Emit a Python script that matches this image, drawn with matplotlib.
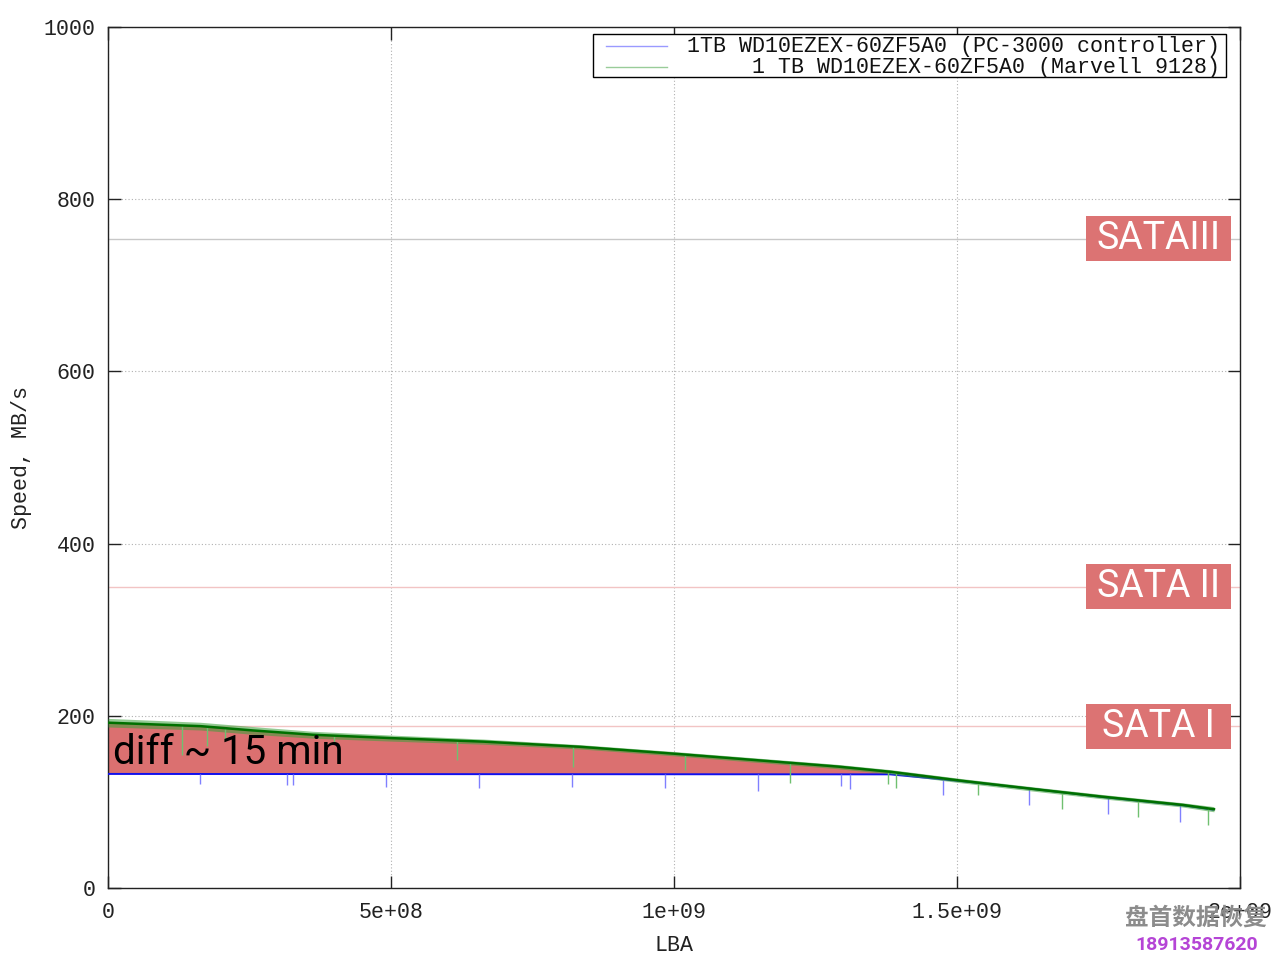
import numpy as np
import matplotlib.pyplot as plt
import matplotlib.transforms as mtransforms
from matplotlib.patches import Rectangle
from matplotlib.lines import Line2D

############ Data
# LBA in units of 1e9, speed in MB/s

# Marvell 9128 (green): mid level and half width of the jitter band
green_lba = [0.000, 0.163, 0.256, 0.362, 0.504, 0.663, 0.834, 1.000, 1.155,
             1.290, 1.382, 1.509, 1.648, 1.758, 1.899, 1.954]
green_speed = [192, 188, 183, 178, 174, 170, 164, 156, 148,
               141, 135, 124.5, 114, 106, 96.5, 91.5]
green_jitter = [5, 4.5, 4.5, 4, 3.5, 3, 2.5, 2.5, 2.5,
                2.5, 2.5, 2.5, 2.5, 2.5, 2.5, 3]
green_dip_lba = [0.131, 0.175, 0.207, 0.399, 0.617, 0.822, 1.019, 1.205,
                 1.378, 1.392, 1.537, 1.686, 1.820, 1.943]
green_dip_speed = [154.6, 165.0, 170.7, 167.2, 148.7, 140.5, 137.0, 121.9,
                   120.8, 116.1, 108.0, 91.8, 82.5, 73.2]

# PC-3000 controller (blue)
blue_lba = [0.000, 0.700, 1.382, 1.509, 1.648, 1.758, 1.899, 1.952]
blue_speed = [132.5, 132.2, 132.0, 124.0, 114.0, 105.5, 96.0, 91.0]
blue_dip_lba = [0.1625, 0.316, 0.327, 0.491, 0.655, 0.820, 0.984, 1.148,
                1.295, 1.311, 1.475, 1.627, 1.767, 1.894]
blue_dip_speed = [120.8, 119.6, 119.6, 117.3, 116.1, 117.3, 116.1, 112.7,
                  118.5, 115.0, 108.0, 96.4, 86.0, 76.7]

# where the red "diff" area ends
diff_end = 1.382

# interface limits
sata_names = ["SATAIII", "SATA II", "SATA I"]
sata_speed = [754, 350, 188]
sata_line_colors = ["#c8c8c8", "#f2c4c4", "#f2c4c4"]

legend_labels = ["1TB WD10EZEX-60ZF5A0 (PC-3000 controller)",
                 "1 TB WD10EZEX-60ZF5A0 (Marvell 9128)"]

x_ticks = [0, 0.5, 1.0, 1.5, 2.0]
x_tick_labels = ["0", "5e+08", "1e+09", "1.5e+09", "2e+09"]
y_ticks = [0, 200, 400, 600, 800, 1000]

############ End of data

mono = "Liberation Mono"
msize = 15.6
E9 = 1e9

fig = plt.figure(figsize=(12.8, 9.6), dpi=100)
ax = fig.add_axes([108 / 1280, 72 / 960, 1132 / 1280, 861 / 960])

gx = np.array(green_lba) * E9
gy = np.array(green_speed)
gj = np.array(green_jitter)
bx = np.array(blue_lba) * E9
by = np.array(blue_speed)

# red area between the two curves
fx = gx[gx <= diff_end * E9 + 1]
ax.fill_between(fx, np.interp(fx, bx, by), gy[:len(fx)], color="#db7070", lw=0, zorder=2)

# interface lines
for s, c in zip(sata_speed, sata_line_colors):
    ax.axhline(s, color=c, lw=1, zorder=1)

# blue curve and its dips
ax.plot(bx, by, color="#1010ee", lw=1.4, zorder=3)
bdx = np.array(blue_dip_lba) * E9
ax.vlines(bdx, blue_dip_speed, np.interp(bdx, bx, by), color="#8080ff", lw=1, zorder=3)

# green curve, jitter band and dips
ax.fill_between(gx, gy - gj, gy + gj, color="#3aa03a", alpha=0.55, lw=0, zorder=4)
ax.plot(gx, gy, color="#007000", lw=1.8, zorder=5)
gdx = np.array(green_dip_lba) * E9
ax.vlines(gdx, green_dip_speed, np.interp(gdx, gx, gy), color="#70c070", lw=1, zorder=4)

# SATA label boxes
trans = mtransforms.blended_transform_factory(ax.transAxes, ax.transData)
for name, s in zip(sata_names, sata_speed):
    ax.add_patch(Rectangle((0.864, s - 26), 0.128, 52, transform=trans,
                           color="#dc7373", lw=0, zorder=6))
    ax.text(0.928, s, name, transform=trans, ha="center", va="center",
            color="white", fontsize=27, family="Roboto", zorder=7)

ax.text(0.009 * E9, 157, "diff ~ 15 min", ha="left", va="center",
        color="black", fontsize=29, family="Roboto", zorder=7)

# axes, ticks, grid
ax.set_xlim(0, 2 * E9)
ax.set_ylim(0, 1000)
ax.set_xticks(np.array(x_ticks) * E9)
ax.set_xticklabels(x_tick_labels)
ax.set_yticks(y_ticks)
ax.tick_params(direction="in", length=9, width=1, top=True, right=True,
               labelsize=msize, colors="#222222")
ax.tick_params(axis="y", pad=9)
ax.tick_params(axis="x", pad=10)
for lab in ax.get_xticklabels() + ax.get_yticklabels():
    lab.set_family(mono)
ax.grid(True, color="#b0b0b0", ls=(0, (1, 2)), lw=0.8)
ax.set_axisbelow(True)
for sp in ax.spines.values():
    sp.set_color("#222222")
    sp.set_linewidth(1)

ax.set_xlabel("LBA", family=mono, fontsize=msize, labelpad=9, color="#222222")
ax.set_ylabel("Speed, MB/s", family=mono, fontsize=msize, labelpad=8, color="#222222")

# gnuplot-style legend: right-justified text, sample line on the left
ax.add_patch(Rectangle((0.4284, 0.942), 0.5592, 0.0497, transform=ax.transAxes,
                       fill=True, fc="white", ec="black", lw=1, zorder=8))
for row, (lab, c) in enumerate(zip(legend_labels, ["#9a9aff", "#99cc99"])):
    yy = 0.9779 - row * 0.0244
    ax.add_line(Line2D([0.440, 0.4938], [yy, yy], transform=ax.transAxes,
                       color=c, lw=1, zorder=9))
    ax.text(0.9823, yy, lab, transform=ax.transAxes, ha="right", va="center",
            family=mono, fontsize=msize, color="#111111", zorder=9)

# watermark
fig.text(1196 / 1280, 1 - 918 / 960, "盘首数据恢复", ha="center", va="center",
         family=["Noto Sans CJK SC", "DejaVu Sans"], fontsize=17, fontweight="bold",
         color="#8c8c8c")
fig.text(1197 / 1280, 1 - 945 / 960, "18913587620", ha="center", va="center",
         family="Roboto", fontsize=14, fontweight="bold", color="#b545d6")

fig.savefig("out.png", dpi=100)
